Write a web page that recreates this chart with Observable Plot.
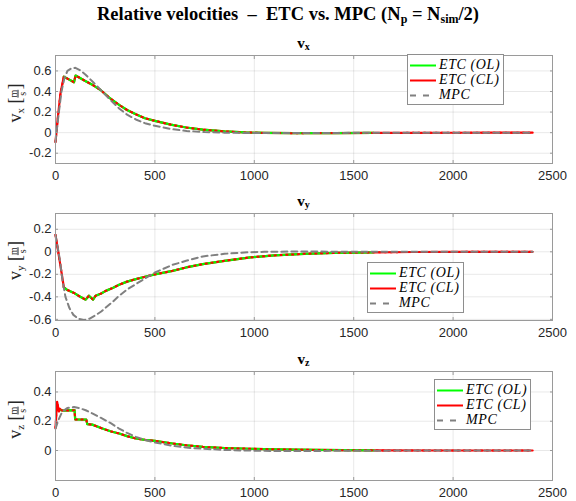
<!DOCTYPE html>
<html><head><meta charset="utf-8">
<script src="https://cdn.jsdelivr.net/npm/d3@7"></script>
<script src="https://cdn.jsdelivr.net/npm/@observablehq/plot@0.6"></script>
<style>
body{margin:0;background:#fff;}
#root{position:relative;width:576px;height:501px;overflow:hidden;background:#fff;}
.abs{position:absolute;}
#title{left:0;top:3px;width:576px;text-align:center;font-family:"Liberation Serif",serif;font-weight:bold;font-size:18.5px;line-height:22px;color:#000;white-space:nowrap;}
#title sub{font-size:12px;vertical-align:-3px;line-height:0;}
.sub{width:80px;text-align:center;font-family:"Liberation Serif",serif;font-weight:bold;font-size:15px;line-height:16px;color:#000;}
.sub sub{font-size:10px;vertical-align:-2px;line-height:0;}
.legend{border:1px solid #8e8e8e;background:#fff;box-sizing:border-box;}
.row{position:absolute;left:0;height:15px;}
.row svg{position:absolute;left:2px;top:0;}
.row span{position:absolute;left:31px;top:-1px;font-family:"Liberation Serif",serif;font-style:italic;font-size:14px;line-height:16px;letter-spacing:0.6px;white-space:pre;color:#000;}
</style></head>
<body><div id="root"></div>
<script>
// ---------- data ----------
const xTicks = [0, 500, 1000, 1500, 2000, 2500];
const yTicksX = [-0.2, 0, 0.2, 0.4, 0.6];
const yTicksY = [-0.6, -0.4, -0.2, 0, 0.2];
const yTicksZ = [0, 0.2, 0.4];
const seriesNames = ["ETC (OL)", "ETC (CL)", "MPC"];

// v_x
const vxCLt = [0, 12, 25, 42, 93, 101, 152, 190, 227, 270, 320, 360, 404, 450, 500, 580, 657, 741, 850, 950, 1050, 1200, 1400, 1600, 1800, 2000, 2200, 2400];
const vxCL  = [-0.09, 0.15, 0.38, 0.545, 0.49, 0.555, 0.5, 0.46, 0.415, 0.34, 0.27, 0.22, 0.178, 0.14, 0.115, 0.078, 0.05, 0.03, 0.012, 0.002, -0.003, -0.005, -0.004, -0.003, -0.002, -0.001, 0, 0];
const vxOLt = [42, 93, 101, 152, 190, 227, 270, 320, 360, 404, 450, 500, 580, 657, 741, 850, 950, 1050, 1200, 1400, 1600];
const vxOL  = [0.545, 0.49, 0.555, 0.5, 0.46, 0.415, 0.34, 0.27, 0.22, 0.178, 0.14, 0.115, 0.078, 0.05, 0.03, 0.012, 0.002, -0.003, -0.005, -0.004, -0.003];
const vxMPCt = [0, 15, 30, 45, 60, 80, 100, 125, 150, 190, 230, 280, 320, 360, 404, 450, 500, 580, 660, 750, 850, 1000, 1200, 1500, 2000, 2400];
const vxMPC  = [-0.09, 0.17, 0.4, 0.53, 0.6, 0.625, 0.63, 0.605, 0.565, 0.49, 0.41, 0.31, 0.235, 0.175, 0.128, 0.092, 0.066, 0.035, 0.016, 0.006, 0.0, -0.004, -0.004, -0.002, 0, 0];

// v_y
const vyCLt = [0, 20, 42, 60, 93, 120, 152, 168, 189, 202, 230, 253, 290, 320, 360, 404, 450, 500, 589, 657, 741, 850, 980, 1100, 1250, 1400, 1600, 1800, 2000, 2200, 2400];
const vyCL  = [0.15, -0.07, -0.315, -0.34, -0.365, -0.395, -0.425, -0.39, -0.425, -0.39, -0.37, -0.347, -0.32, -0.293, -0.265, -0.243, -0.222, -0.2, -0.169, -0.139, -0.11, -0.08, -0.05, -0.032, -0.018, -0.01, -0.005, -0.002, -0.001, 0, 0];
const vyOLt = [42, 60, 93, 120, 152, 168, 189, 202, 230, 253, 290, 320, 360, 404, 450, 500, 589, 657, 741, 850, 980, 1100, 1250, 1400, 1600];
const vyOL  = [-0.315, -0.34, -0.365, -0.395, -0.425, -0.39, -0.425, -0.39, -0.37, -0.347, -0.32, -0.293, -0.265, -0.243, -0.222, -0.2, -0.169, -0.139, -0.11, -0.08, -0.05, -0.032, -0.018, -0.01, -0.005];
const vyMPCt = [0, 20, 35, 50, 70, 90, 115, 143, 170, 200, 230, 253, 290, 320, 360, 404, 472, 500, 589, 657, 741, 850, 950, 1050, 1200, 1500, 2000, 2400];
const vyMPC  = [0.15, -0.05, -0.25, -0.4, -0.5, -0.56, -0.595, -0.605, -0.595, -0.565, -0.53, -0.495, -0.44, -0.391, -0.335, -0.287, -0.213, -0.184, -0.116, -0.08, -0.041, -0.018, -0.006, 0.0, 0.002, 0.001, 0, 0];

// v_z
const vzCLt = [0, 8, 17, 22, 30, 42, 60, 96, 99, 155, 160, 185, 236, 280, 320, 360, 404, 450, 500, 589, 657, 741, 850, 980, 1100, 1300, 1600, 2000, 2400];
const vzCL  = [0.155, 0.333, 0.268, 0.286, 0.275, 0.272, 0.274, 0.276, 0.212, 0.211, 0.18, 0.177, 0.15, 0.13, 0.116, 0.098, 0.082, 0.073, 0.066, 0.048, 0.036, 0.025, 0.017, 0.012, 0.008, 0.004, 0.001, 0, 0];
const vzOLt = [28, 42, 60, 96, 99, 155, 160, 185, 236, 280, 320, 360, 404, 450, 500, 589, 657, 741, 850, 980, 1100, 1300, 1600];
const vzOL  = [0.275, 0.272, 0.274, 0.276, 0.212, 0.211, 0.18, 0.177, 0.15, 0.13, 0.116, 0.098, 0.082, 0.073, 0.066, 0.048, 0.036, 0.025, 0.017, 0.012, 0.008, 0.004, 0.001];
const vzMPCt = [0, 15, 34, 59, 93, 120, 152, 190, 236, 280, 320, 360, 404, 450, 500, 589, 657, 741, 850, 950, 1100, 1300, 1600, 2000, 2400];
const vzMPC  = [0.15, 0.21, 0.265, 0.29, 0.297, 0.29, 0.275, 0.25, 0.218, 0.185, 0.15, 0.12, 0.093, 0.072, 0.055, 0.032, 0.02, 0.012, 0.004, 0, -0.003, -0.003, -0.001, 0, 0];

// ---------- layout / style ----------
const COLORS = ["#00ff00", "#ff0000", "#808080"];
const toRows = (ts, vs) => ts.map((t, i) => ({t, v: vs[i]}));

const panels = [
  {key: "x", cl: toRows(vxCLt, vxCL), ol: toRows(vxOLt, vxOL), mpc: toRows(vxMPCt, vxMPC), yTicks: yTicksX, domain: [-0.3, 0.75],
   fTop: 55, fBot: 163, mb: 24, legend: {left: 407, top: 54}},
  {key: "y", cl: toRows(vyCLt, vyCL), ol: toRows(vyOLt, vyOL), mpc: toRows(vyMPCt, vyMPC), yTicks: yTicksY, domain: [-0.61, 0.34],
   fTop: 213, fBot: 320, mb: 24, legend: {left: 367, top: 262}},
  {key: "z", cl: toRows(vzCLt, vzCL), ol: toRows(vzOLt, vzOL), mpc: toRows(vzMPCt, vzMPC), yTicks: yTicksZ, domain: [-0.205, 0.54],
   fTop: 371, fBot: 480, mb: 21, legend: {left: 434, top: 379}}
];

const root = document.getElementById("root");
const title = document.createElement("div");
title.className = "abs"; title.id = "title";
title.innerHTML = "Relative velocities &nbsp;&ndash;&nbsp; ETC vs. MPC (N<sub>p</sub> = N<sub>sim</sub>/2)";
root.appendChild(title);

const ML = 55, MR = 24, MT = 10;
const AX = "#9a9a9a";

for (const p of panels) {
  const H = MT + (p.fBot - p.fTop) + p.mb;
  const chart = Plot.plot({
    width: 576, height: H, marginLeft: ML, marginRight: MR, marginTop: MT, marginBottom: p.mb,
    style: {fontFamily: "'Liberation Sans', Arial, sans-serif", fontSize: "13px", color: "#262626", background: "transparent", overflow: "visible"},
    x: {domain: [0, 2500]},
    y: {domain: p.domain},
    marks: [
      Plot.gridX(xTicks, {stroke: "#000", strokeOpacity: 0.09}),
      Plot.gridY(p.yTicks, {stroke: "#000", strokeOpacity: 0.09}),
      Plot.line(p.cl, {x: "t", y: "v", stroke: COLORS[1], strokeWidth: 2.2}),
      Plot.line(p.ol, {x: "t", y: "v", stroke: COLORS[0], strokeWidth: 2.2}),
      Plot.line(p.cl, {x: "t", y: "v", stroke: COLORS[1], strokeWidth: 2, strokeDasharray: "1.3,4.5"}),
      Plot.line(p.mpc, {x: "t", y: "v", stroke: COLORS[2], strokeWidth: 2, strokeDasharray: "6,4"}),
      Plot.frame({stroke: AX}),
      Plot.axisX(xTicks, {anchor: "bottom", tickSize: -3, tickPadding: 10, stroke: AX, label: null, tickFormat: d => String(d)}),
      Plot.axisX(xTicks, {anchor: "top", tickSize: -3, tickFormat: () => "", stroke: AX, label: null}),
      Plot.axisY(p.yTicks, {anchor: "left", tickSize: -3, tickPadding: 7, stroke: AX, label: null, tickFormat: d => String(d)}),
      Plot.axisY(p.yTicks, {anchor: "right", tickSize: -3, tickFormat: () => "", stroke: AX, label: null})
    ]
  });
  const wrap = document.createElement("div");
  wrap.className = "abs";
  wrap.style.left = "0px"; wrap.style.top = (p.fTop - MT) + "px";
  wrap.appendChild(chart);
  root.appendChild(wrap);

  // y label (LaTeX-like)
  const svg = d3.select(chart);
  const cy = MT + (p.fBot - p.fTop) / 2 - 6;
  const t = svg.append("text")
    .attr("transform", `translate(21,${cy}) rotate(-90)`)
    .attr("text-anchor", "middle")
    .attr("font-family", "'Liberation Serif', serif")
    .attr("font-size", 18).attr("fill", "#262626");
  t.append("tspan").text("v");
  t.append("tspan").attr("font-size", 11).attr("dy", 3).text(p.key);
  t.append("tspan").attr("dy", -3).text(" [");
  t.append("tspan").attr("font-size", 10).attr("dy", -4.5).attr("text-decoration", "underline").text("m");
  t.append("tspan").attr("font-size", 10).attr("dx", -6).attr("dy", 9.5).text("s");
  t.append("tspan").attr("dx", 2.5).attr("dy", -5).text("]");

  // subplot title
  const st = document.createElement("div");
  st.className = "abs sub";
  st.style.left = ((ML + 576 - MR) / 2 - 40) + "px";
  st.style.top = (p.fTop - 20) + "px";
  st.innerHTML = "v<sub>" + p.key + "</sub>";
  root.appendChild(st);

  // legend
  const lg = document.createElement("div");
  lg.className = "abs legend";
  lg.style.left = p.legend.left + "px"; lg.style.top = p.legend.top + "px";
  lg.style.width = "97px"; lg.style.height = "51px";
  seriesNames.forEach((name, i) => {
    const row = document.createElement("div");
    row.className = "row";
    row.style.top = (3 + i * 15) + "px";
    row.style.width = "95px";
    const line = i === 2
      ? `<line x1="0" y1="7.5" x2="20" y2="7.5" stroke="${COLORS[i]}" stroke-width="2" stroke-dasharray="6,7"/>`
      : `<line x1="0" y1="7.5" x2="26" y2="7.5" stroke="${COLORS[i]}" stroke-width="2"/>`;
    row.innerHTML = `<svg width="28" height="15">${line}</svg><span>${name}</span>`;
    lg.appendChild(row);
  });
  root.appendChild(lg);
}
</script></body></html>
